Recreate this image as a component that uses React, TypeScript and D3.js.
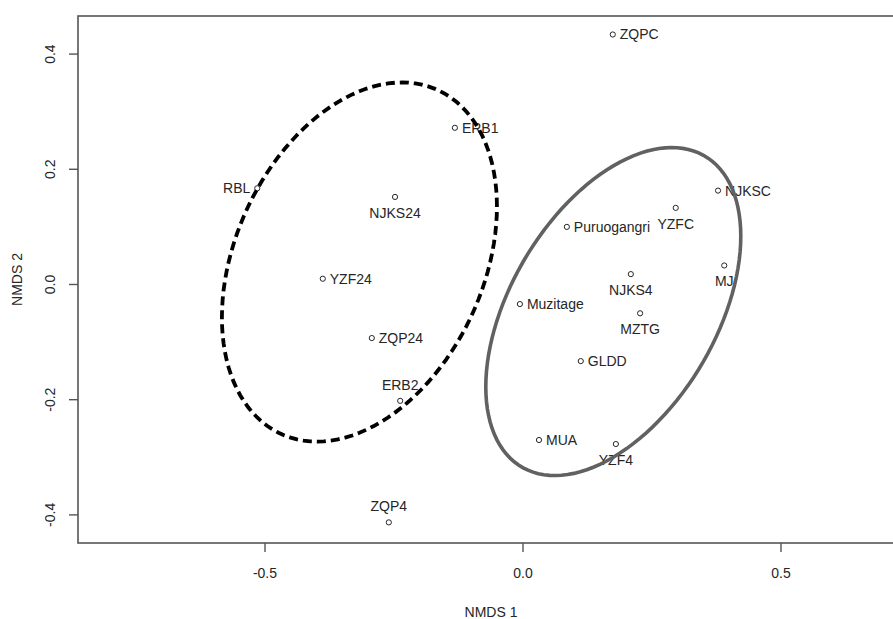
import * as d3 from 'd3'

// NMDS site scores
const siteNames = [
  'ZQPC', 'ERB1', 'RBL', 'NJKS24', 'YZF24', 'ZQP24', 'ERB2', 'ZQP4',
  'Puruogangri', 'Muzitage', 'YZFC', 'NJKSC', 'MJ', 'NJKS4', 'MZTG', 'GLDD', 'MUA', 'YZF4'
]
const nmds1 = [
  0.174, -0.132, -0.515, -0.248, -0.388, -0.293, -0.238, -0.260,
  0.085, -0.006, 0.296, 0.378, 0.390, 0.209, 0.227, 0.112, 0.031, 0.180
]
const nmds2 = [
  0.434, 0.272, 0.167, 0.152, 0.010, -0.093, -0.202, -0.413,
  0.100, -0.034, 0.133, 0.163, 0.033, 0.018, -0.050, -0.133, -0.270, -0.277
]
// which side of the point the name is written on
const labelSide = [
  'right', 'right', 'left', 'below', 'right', 'right', 'above', 'above',
  'right', 'right', 'below', 'right', 'below', 'below', 'below', 'right', 'right', 'below'
]

// group ellipses (centre, spread on each axis, correlation)
const ellipseCx = [-0.317, 0.175]
const ellipseCy = [0.039, -0.047]
const ellipseSx = [0.2665, 0.2471]
const ellipseSy = [0.3117, 0.2847]
const ellipseR = [0.309, 0.459]

const xTicks = [-0.5, 0.0, 0.5]
const yTicks = [-0.4, -0.2, 0.0, 0.2, 0.4]

const WIDTH = 893
const HEIGHT = 619
const BOX = { left: 78, top: 16, right: 904, bottom: 543 }
const FONT = 'Liberation Sans, Arial, sans-serif'
const TEXT = '#262626'

export default function App() {
  const x = d3.scaleLinear().domain([-0.8624, 0.7384]).range([BOX.left, BOX.right])
  const y = d3.scaleLinear().domain([-0.4488, 0.4661]).range([BOX.bottom, BOX.top])

  const steps = d3.range(0, 120).map(i => (i / 120) * Math.PI * 2)
  const ellipsePath = (g: number) => {
    const k = Math.sqrt(1 - ellipseR[g] * ellipseR[g])
    const pts = steps.map(t => [
      ellipseCx[g] + ellipseSx[g] * Math.cos(t),
      ellipseCy[g] + ellipseSy[g] * (ellipseR[g] * Math.cos(t) + k * Math.sin(t))
    ] as [number, number])
    return d3.line<[number, number]>()
      .x(d => x(d[0]))
      .y(d => y(d[1]))
      .curve(d3.curveLinearClosed)(pts)
  }

  return (
    <svg width={WIDTH} height={HEIGHT} style={{ position: 'fixed', left: 0, top: 0, background: '#fff' }}>
      {/* points and names */}
      {siteNames.map((name, i) => {
        const px = x(nmds1[i])
        const py = y(nmds2[i])
        const side = labelSide[i]
        let tx = px
        let ty = py
        let anchor: 'start' | 'end' | 'middle' = 'middle'
        if (side === 'right') { tx = px + 7; anchor = 'start' }
        if (side === 'left') { tx = px - 7; anchor = 'end' }
        if (side === 'below') ty = py + 16
        if (side === 'above') ty = py - 16
        return (
          <g key={name}>
            <circle cx={px} cy={py} r={2.6} fill="#fff" stroke={TEXT} strokeWidth={1} />
            <text x={tx} y={ty} fill={TEXT} fontFamily={FONT} fontSize={14}
              textAnchor={anchor} dominantBaseline="central">{name}</text>
          </g>
        )
      })}

      {/* ellipses, drawn over the labels */}
      <path d={ellipsePath(0) || ''} fill="none" stroke="#000" strokeWidth={3.8} strokeDasharray="9,5" />
      <path d={ellipsePath(1) || ''} fill="none" stroke="#616161" strokeWidth={3.6} />

      {/* frame */}
      <rect x={BOX.left} y={BOX.top} width={BOX.right - BOX.left} height={BOX.bottom - BOX.top}
        fill="none" stroke="#555" strokeWidth={1.6} />

      {/* x axis */}
      {xTicks.map(t => (
        <g key={`x${t}`}>
          <line x1={x(t)} x2={x(t)} y1={BOX.bottom} y2={BOX.bottom + 9} stroke="#555" strokeWidth={1.4} />
          <text x={x(t)} y={573} fill={TEXT} fontFamily={FONT} fontSize={14}
            textAnchor="middle" dominantBaseline="central">{t.toFixed(1)}</text>
        </g>
      ))}
      <text x={(BOX.left + BOX.right) / 2} y={612} fill={TEXT} fontFamily={FONT} fontSize={14}
        textAnchor="middle" dominantBaseline="central">NMDS 1</text>

      {/* y axis */}
      {yTicks.map(t => (
        <g key={`y${t}`}>
          <line x1={BOX.left - 9} x2={BOX.left} y1={y(t)} y2={y(t)} stroke="#555" strokeWidth={1.4} />
          <text transform={`translate(50,${y(t)}) rotate(-90)`} fill={TEXT} fontFamily={FONT} fontSize={14}
            textAnchor="middle" dominantBaseline="central">{t.toFixed(1)}</text>
        </g>
      ))}
      <text transform={`translate(17,${(BOX.top + BOX.bottom) / 2}) rotate(-90)`} fill={TEXT}
        fontFamily={FONT} fontSize={14} textAnchor="middle" dominantBaseline="central">NMDS 2</text>
    </svg>
  )
}
